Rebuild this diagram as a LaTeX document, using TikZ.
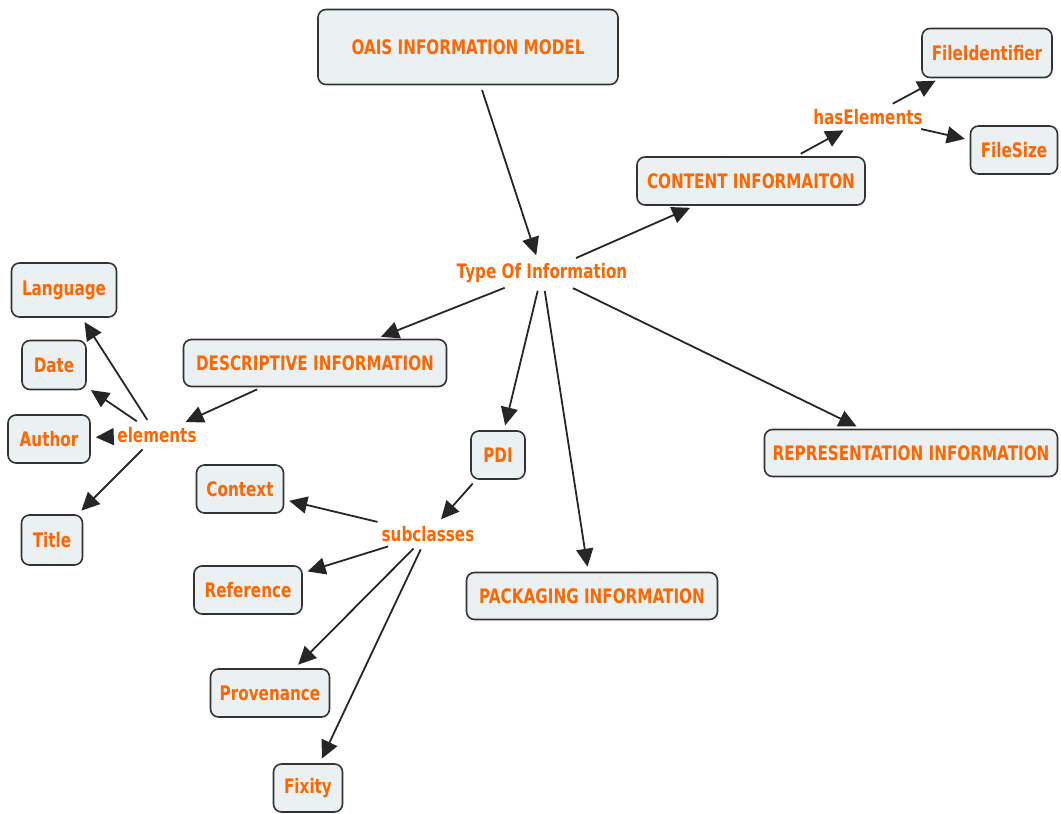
\documentclass[tikz,border=0pt]{standalone}
\usepackage{fontspec}
\usetikzlibrary{arrows.meta}
\newfontfamily\lblfont{DejaVu Sans}[FakeStretch=0.76]
\definecolor{boxfill}{HTML}{EBF1F3}
\definecolor{boxline}{HTML}{333333}
\definecolor{lbl}{HTML}{FF6600}
\begin{document}
\begin{tikzpicture}[x=1pt, y=-1pt,
  every node/.style={font=\lblfont\bfseries\fontsize{20}{22}\selectfont, text=lbl},
  concept/.style={draw=boxline, fill=boxfill, line width=1.6pt, rounded corners=8pt,
    inner sep=0pt, minimum height=48pt},
  linkword/.style={inner sep=3pt},
  conn/.style={-{Triangle[length=18pt,width=17pt]}, line width=1.8pt, draw=black!85,
    shorten <=5pt, shorten >=5pt}]
\useasboundingbox (0,0) rectangle (1061,814);

% concepts
\node[concept, minimum width=300pt, minimum height=75pt] (oais) at (468,47) {OAIS INFORMATION MODEL};
\node[concept, minimum width=228pt] (content) at (751,181) {CONTENT INFORMAITON};
\node[concept, minimum width=130pt, minimum height=49pt] (fileid) at (987,53) {FileIdentifier};
\node[concept, minimum width=87pt] (filesize) at (1014,150) {FileSize};
\node[concept, minimum width=105pt, minimum height=54pt] (lang) at (64,290) {Language};
\node[concept, minimum width=64pt, minimum height=49pt] (date) at (54,365) {Date};
\node[concept, minimum width=82pt] (author) at (49,439) {Author};
\node[concept, minimum width=61pt, minimum height=50pt] (title) at (52,540) {Title};
\node[concept, minimum width=263pt, minimum height=47pt] (desc) at (315,363) {DESCRIPTIVE INFORMATION};
\node[concept, minimum width=87pt] (context) at (240,489) {Context};
\node[concept, minimum width=108pt] (reference) at (248,590) {Reference};
\node[concept, minimum width=119pt] (prov) at (270,693) {Provenance};
\node[concept, minimum width=69pt] (fixity) at (308,788) {Fixity};
\node[concept, minimum width=54pt] (pdi) at (498,455) {PDI};
\node[concept, minimum width=251pt, minimum height=47pt] (pack) at (592,596) {PACKAGING INFORMATION};
\node[concept, minimum width=293pt, minimum height=47pt] (repr) at (911,453) {REPRESENTATION INFORMATION};

% linking phrases
\node[linkword] (type) at (542,273) {Type Of Information};
\node[linkword] (has) at (868,117) {hasElements};
\node[linkword] (elem) at (157,435) {elements};
\node[linkword] (sub) at (428,534) {subclasses};

% connections
\draw[conn] (oais) -- (type);
\draw[conn] (type) -- (content);
\draw[conn] (content) -- (has);
\draw[conn] (has) -- (fileid);
\draw[conn] (has) -- (filesize);
\draw[conn] (type) -- (desc);
\draw[conn] (type) -- (pdi);
\draw[conn] (type) -- (pack);
\draw[conn] (type) -- (repr);
\draw[conn] (desc) -- (elem);
\draw[conn] (elem) -- (lang);
\draw[conn] (elem) -- (date);
\draw[conn] (elem) -- (author);
\draw[conn] (elem) -- (title);
\draw[conn] (pdi) -- (sub);
\draw[conn] (sub) -- (context);
\draw[conn] (sub) -- (reference);
\draw[conn] (sub) -- (prov);
\draw[conn] (sub) -- (fixity);
\end{tikzpicture}
\end{document}
